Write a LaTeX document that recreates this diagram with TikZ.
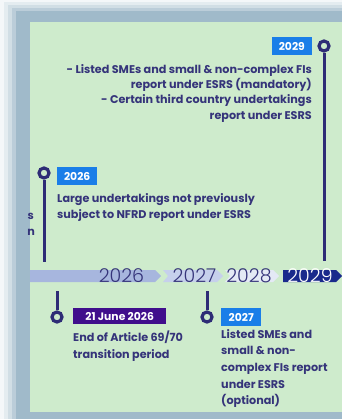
\documentclass[tikz,border=0pt]{standalone}
\usepackage{fontspec}
\setmainfont{Poppins}
\newfontfamily\yearfont{Poppins Light}
\definecolor{PanelClr}{RGB}{206,235,204}
\definecolor{FrameClr}{RGB}{160,186,202}
\definecolor{InkClr}{RGB}{53,52,122}
\definecolor{StemClr}{RGB}{46,44,118}
\definecolor{YearBlue}{RGB}{26,126,232}
\definecolor{YearPurple}{RGB}{64,14,140}
\definecolor{BarA}{RGB}{167,182,222}
\definecolor{BarB}{RGB}{198,208,236}
\definecolor{BarC}{RGB}{228,233,245}
\definecolor{BarD}{RGB}{26,42,140}

\begin{document}
\begin{tikzpicture}[x=1pt,y=-1pt,
  yearbox/.style={fill=YearBlue,text=white,font=\bfseries\fontsize{10.8}{12}\selectfont,
    inner sep=0pt,minimum height=18pt,minimum width=40pt},
  ring/.style={circle,draw=StemClr,line width=3.2pt,fill=PanelClr,minimum size=10pt,inner sep=0pt},
  stem/.style={draw=StemClr,line width=3pt},
  desc/.style={text=InkClr,font=\bfseries\fontsize{11.2}{16}\selectfont,inner sep=0pt},
  baryear/.style={font=\yearfont\fontsize{19}{19}\selectfont,text=InkClr,inner sep=0pt}]
\useasboundingbox (0,0) rectangle (342,419);

% frame and panel
\fill[white] (0,0) rectangle (342,419);
\fill[FrameClr!12] (0,0) rectangle (342,419);
\fill[FrameClr!28] (4,2) rectangle (342,419);
\fill[FrameClr!48] (8,5) rectangle (342,419);
\fill[FrameClr!72] (12,8) rectangle (342,419);
\fill[FrameClr] (16,11) rectangle (342,419);
\fill[PanelClr] (30,22) rectangle (342,412);

% timeline bar
\fill[BarA] (30,270) -- (155,270) -- (161,276) -- (155,282) -- (30,282) -- cycle;
\fill[BarB] (163,270) -- (217,270) -- (223,276) -- (217,282) -- (163,282) -- (168,276) -- cycle;
\fill[BarC] (225,270) -- (273,270) -- (279,276) -- (273,282) -- (225,282) -- (230,276) -- cycle;
\fill[BarD] (283,270) -- (336,270) -- (342,276) -- (336,282) -- (283,282) -- cycle;
\node[baryear] (y26) at (121.5,276) {2026};
\node[baryear] (y27) at (194.5,276) {2027};
\node[baryear] (y28) at (249,276) {2028};
\node[baryear,text=white] (y29) at (310,276) {2029};

% 2029
\node[ring] (r2029) at (324,46) {};
\coordinate (b2029) at (324,261);
\draw[stem] (r2029.south) -- (b2029);
\node[yearbox,anchor=north east] (k2029) at (312,37) {2029};
\node[desc,align=right,anchor=north east,font=\bfseries\fontsize{11.2}{15.3}\selectfont]
  (t2029) at (312,64) {- Listed SMEs and small \& non-complex FIs\\
  report under ESRS (mandatory)\\
  - Certain third country undertakings\hspace*{5pt}\\
  report under ESRS};

% 2026
\node[ring] (r2026) at (44,173) {};
\coordinate (b2026) at (44,262);
\draw[stem] (r2026.south) -- (b2026);
\node[yearbox,anchor=north west] (k2026) at (57,167) {2026};
\node[desc,align=left,anchor=north west] (t2026) at (57,193)
  {Large undertakings not previously\\subject to NFRD report under ESRS};
\node[desc,anchor=base east] (cut1) at (34,219) {s};
\node[desc,anchor=base east] (cut2) at (35,235) {n};

% 21 June 2026
\node[ring] (r2106) at (57,317) {};
\coordinate (b2106) at (57,291);
\draw[stem] (b2106) -- (r2106.north);
\node[yearbox,fill=YearPurple,anchor=north west,minimum width=93pt,minimum height=16pt]
  (k2106) at (73,308) {21 June 2026};
\node[desc,align=left,anchor=north west,font=\bfseries\fontsize{11.2}{17}\selectfont]
  (t2106) at (73,331) {End of Article 69/70\\transition period};

% 2027
\node[ring] (r2027) at (207,317) {};
\coordinate (b2027) at (207,291);
\draw[stem] (b2027) -- (r2027.north);
\node[yearbox,anchor=north west] (k2027) at (221,308) {2027};
\node[desc,align=left,anchor=north west,font=\bfseries\fontsize{11.2}{16.7}\selectfont]
  (t2027) at (221,329) {Listed SMEs and\\small \& non-\\complex FIs report\\under ESRS\\(optional)};

\end{tikzpicture}
\end{document}
